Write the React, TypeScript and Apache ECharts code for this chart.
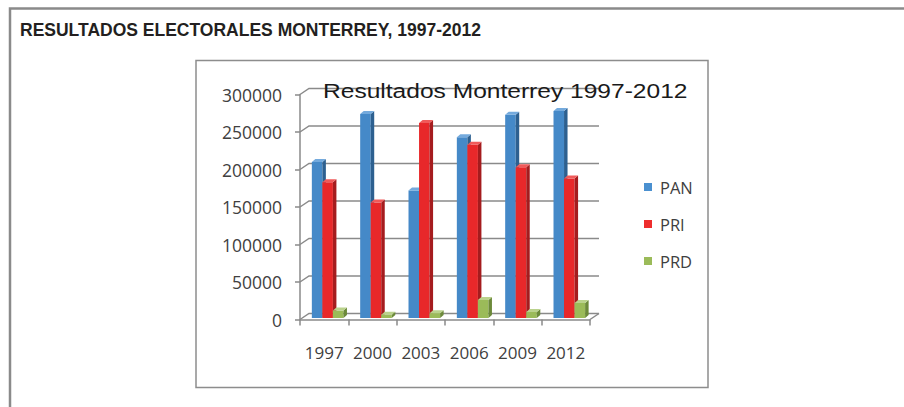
import React, { useEffect, useRef } from "react";
import * as echarts from "echarts";

const years = ["1997", "2000", "2003", "2006", "2009", "2012"];
const panValues = [208000, 272000, 170000, 241000, 271000, 276000];
const priValues = [181000, 154000, 260000, 231000, 201000, 186000];
const prdValues = [10000, 4500, 6500, 24000, 8000, 20000];
const yTicks = [0, 50000, 100000, 150000, 200000, 250000, 300000];
const seriesNames = ["PAN", "PRI", "PRD"];

const heading = "RESULTADOS ELECTORALES MONTERREY, 1997-2012";
const chartTitle = "Resultados Monterrey 1997-2012";

const faces = [
  { front: "#4589c8", side: "#2d6090", top: "#74aadd", legend: "#4a90d0" },
  { front: "#e8282a", side: "#a51c1e", top: "#f05a5a", legend: "#ee2d2d" },
  { front: "#9bbb59", side: "#6c8a3a", top: "#bad28c", legend: "#9bbb59" },
];

const WALL_DX = 9;
const WALL_DY = 6;
const BAR_DX = 3.5;
const BAR_DY = 3;
const GRID_COLOR = "#8a8a8a";
const LABEL_FONT = "'Open Sans', 'Noto Sans', sans-serif";

function barRenderer(seriesIdx: number) {
  return (params: any, api: any) => {
    const cat = api.value(0);
    const v = api.value(1);
    const base = api.coord([cat, 0]);
    const top = api.coord([cat, v]);
    const cw = api.size([1, 0])[0];
    const bw = cw * 0.218;
    const x0 = base[0] - cw * 0.255 + seriesIdx * bw;
    const yb = base[1] - 1.5;
    const yt = top[1] - 1.5;
    const c = faces[seriesIdx];
    return {
      type: "group",
      children: [
        {
          type: "rect",
          shape: { x: x0, y: yt, width: bw, height: yb - yt },
          style: { fill: c.front },
        },
        {
          type: "polygon",
          shape: {
            points: [
              [x0 + bw, yt],
              [x0 + bw + BAR_DX, yt - BAR_DY],
              [x0 + bw + BAR_DX, yb - BAR_DY],
              [x0 + bw, yb],
            ],
          },
          style: { fill: c.side },
        },
        {
          type: "polygon",
          shape: {
            points: [
              [x0, yt],
              [x0 + BAR_DX, yt - BAR_DY],
              [x0 + bw + BAR_DX, yt - BAR_DY],
              [x0 + bw, yt],
            ],
          },
          style: { fill: c.top },
        },
      ],
    };
  };
}

function frameRenderer(params: any, api: any) {
  const v = api.value(1);
  const p = api.coord([0, v]);
  const cs = params.coordSys;
  const xl = cs.x;
  const xr = cs.x + cs.width;
  const y = p[1];
  const children: any[] = [
    {
      type: "polyline",
      shape: {
        points: [
          [xl, y],
          [xl + WALL_DX, y - WALL_DY],
          [xr + WALL_DX, y - WALL_DY],
        ],
      },
      style: { stroke: GRID_COLOR, lineWidth: 1.5, fill: "none" },
    },
  ];
  if (v === 0) {
    children.push({
      type: "line",
      shape: { x1: xr + WALL_DX, y1: y - WALL_DY, x2: xr, y2: y },
      style: { stroke: GRID_COLOR, lineWidth: 1.5 },
    });
  }
  return { type: "group", children };
}

export default function App() {
  const ref = useRef<HTMLDivElement>(null);
  useEffect(() => {
    if (!ref.current) return;
    const chart = echarts.init(ref.current, null, { renderer: "svg" });
    const allValues = [panValues, priValues, prdValues];
    chart.setOption({
      animation: false,
      backgroundColor: "#ffffff",
      grid: { left: 300, right: 314, top: 94.5, bottom: 87.5 },
      legend: {
        orient: "vertical",
        left: 639,
        top: 173,
        itemWidth: 8,
        itemHeight: 8,
        itemGap: 19,
        icon: "rect",
        data: seriesNames.map((n, i) => ({
          name: n,
          itemStyle: { color: faces[i].legend },
        })),
        textStyle: {
          fontFamily: LABEL_FONT,
          fontSize: 16.5,
          lineHeight: 18,
          color: "#404040",
          padding: [0, 0, 0, 3],
        },
      },
      xAxis: {
        type: "category",
        data: years,
        boundaryGap: true,
        axisLine: { show: true, lineStyle: { color: GRID_COLOR, width: 1.5 } },
        axisTick: {
          show: true,
          length: 6,
          alignWithLabel: false,
          interval: 0,
          lineStyle: { color: GRID_COLOR, width: 1.5 },
        },
        axisLabel: {
          margin: 24,
          interval: 0,
          hideOverlap: false,
          fontFamily: LABEL_FONT,
          fontSize: 17,
          color: "#404040",
        },
        splitLine: { show: false },
      },
      yAxis: {
        type: "value",
        min: 0,
        max: 300000,
        interval: 50000,
        axisLine: { show: true, lineStyle: { color: GRID_COLOR, width: 1.5 } },
        axisTick: { show: true, length: 5, lineStyle: { color: GRID_COLOR, width: 1.5 } },
        axisLabel: {
          margin: 18,
          fontFamily: LABEL_FONT,
          fontSize: 17.5,
          color: "#404040",
          formatter: (v: number) => String(v),
        },
        splitLine: { show: false },
      },
      graphic: [
        {
          type: "rect",
          shape: { x: 10, y: 8.5, width: 1000, height: 600 },
          style: { fill: "none", stroke: "#8a8a8a", lineWidth: 2.5 },
          silent: true,
        },
        {
          type: "rect",
          shape: { x: 196, y: 60.5, width: 512, height: 327 },
          style: { fill: "none", stroke: "#8d8d8d", lineWidth: 1.5 },
          silent: true,
        },
        {
          type: "text",
          x: 20,
          y: 30,
          style: {
            text: heading,
            x: 0,
            y: 0,
            fill: "#231f20",
            font: "bold 17.5px 'Liberation Sans', Arial, sans-serif",
            textAlign: "left",
            textVerticalAlign: "middle",
          },
          silent: true,
        },
        {
          type: "text",
          x: 323,
          y: 90.5,
          scaleX: 1.17,
          z: 10,
          style: {
            text: chartTitle,
            x: 0,
            y: 0,
            fill: "#1a1a1a",
            font: "21px 'Liberation Sans', Arial, sans-serif",
            textAlign: "left",
            textVerticalAlign: "middle",
          },
          silent: true,
        },
      ],
      series: [
        {
          type: "custom",
          name: "frame",
          silent: true,
          clip: false,
          z: 1,
          renderItem: frameRenderer,
          data: yTicks.map((v) => [0, v]),
        },
        ...seriesNames.map((name, i) => ({
          type: "custom",
          name,
          z: 2,
          clip: false,
          itemStyle: { color: faces[i].legend },
          renderItem: barRenderer(i),
          data: allValues[i].map((v, j) => [j, v]),
        })),
      ],
    });
    return () => chart.dispose();
  }, []);
  return (
    <div
      ref={ref}
      style={{ position: "absolute", left: 0, top: 0, width: 904, height: 407 }}
    />
  );
}
